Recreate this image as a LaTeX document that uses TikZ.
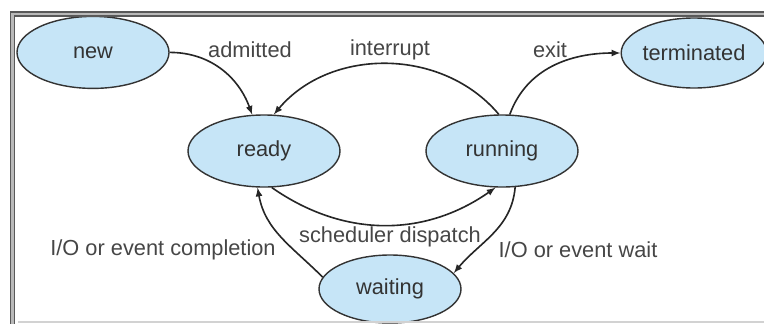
\documentclass[tikz,border=0pt]{standalone}
\usepackage{fontspec}
\setmainfont{Liberation Sans}
\usepackage{tikz}
\usetikzlibrary{arrows,shapes.geometric}

\definecolor{stateblue}{RGB}{198,229,247}
\definecolor{labelgray}{RGB}{70,70,70}
\tikzset{
  procstate/.style={ellipse, draw=black!80, line width=1pt, fill=stateblue, inner sep=0pt,
    minimum width=3.8cm, minimum height=1.8cm, text=black!80, font=\fontsize{15.5}{18}\selectfont},
  trans/.style={black!85, line width=1.15pt, -latex},
  lbl/.style={labelgray, font=\fontsize{15.5}{18}\selectfont}
}

\begin{document}
\begin{tikzpicture}
\useasboundingbox (0cm,0cm) rectangle (19.1cm,-8.075cm);

\node [procstate] (new) at (2.325cm,-1.31cm) {new};
\node [procstate, minimum width=3.55cm, minimum height=1.75cm] (terminated) at (17.35cm,-1.325cm) {terminated};
\node [procstate] (ready) at (6.6cm,-3.775cm) {ready};
\node [procstate] (running) at (12.55cm,-3.775cm) {running};
\node [procstate, minimum width=3.55cm, minimum height=1.7cm] (waiting) at (9.75cm,-7.225cm) {waiting};

\draw [trans] (new.east) to[out=0,in=110] (ready.108);
\draw [trans] (running.95) to[out=130,in=50] (ready.75);
\draw [trans] (running.78) to[out=70,in=180] (terminated.west);
\draw [trans] (ready.-78) to[out=-35,in=-145] (running.-100);
\draw [trans] (running.-70) to[out=-95,in=50] (waiting.14);
\draw [trans] (waiting.170) to[out=135,in=-80] (ready.-100);

\node [lbl] (admitted) at (6.25cm,-1.25cm) {admitted};
\node [lbl] (interrupt) at (9.75cm,-1.25cm) {interrupt};
\node [lbl] (exit) at (13.75cm,-1.25cm) {exit};
\node [lbl] (dispatch) at (9.75cm,-5.92cm) {scheduler dispatch};
\node [lbl] (completion) at (4.075cm,-6.25cm) {I/O or event completion};
\node [lbl] (wait) at (14.45cm,-6.25cm) {I/O or event wait};

\draw [black!65, line width=1pt, double=gray!55, double distance=2.1pt] (19.3cm,-0.35cm) -- (0.3125cm,-0.35cm) -- (0.3125cm,-8.3cm);
\draw [gray!35, line width=1.2pt] (0.45cm,-8.05cm) -- (19.1cm,-8.05cm);
\end{tikzpicture}
\end{document}
